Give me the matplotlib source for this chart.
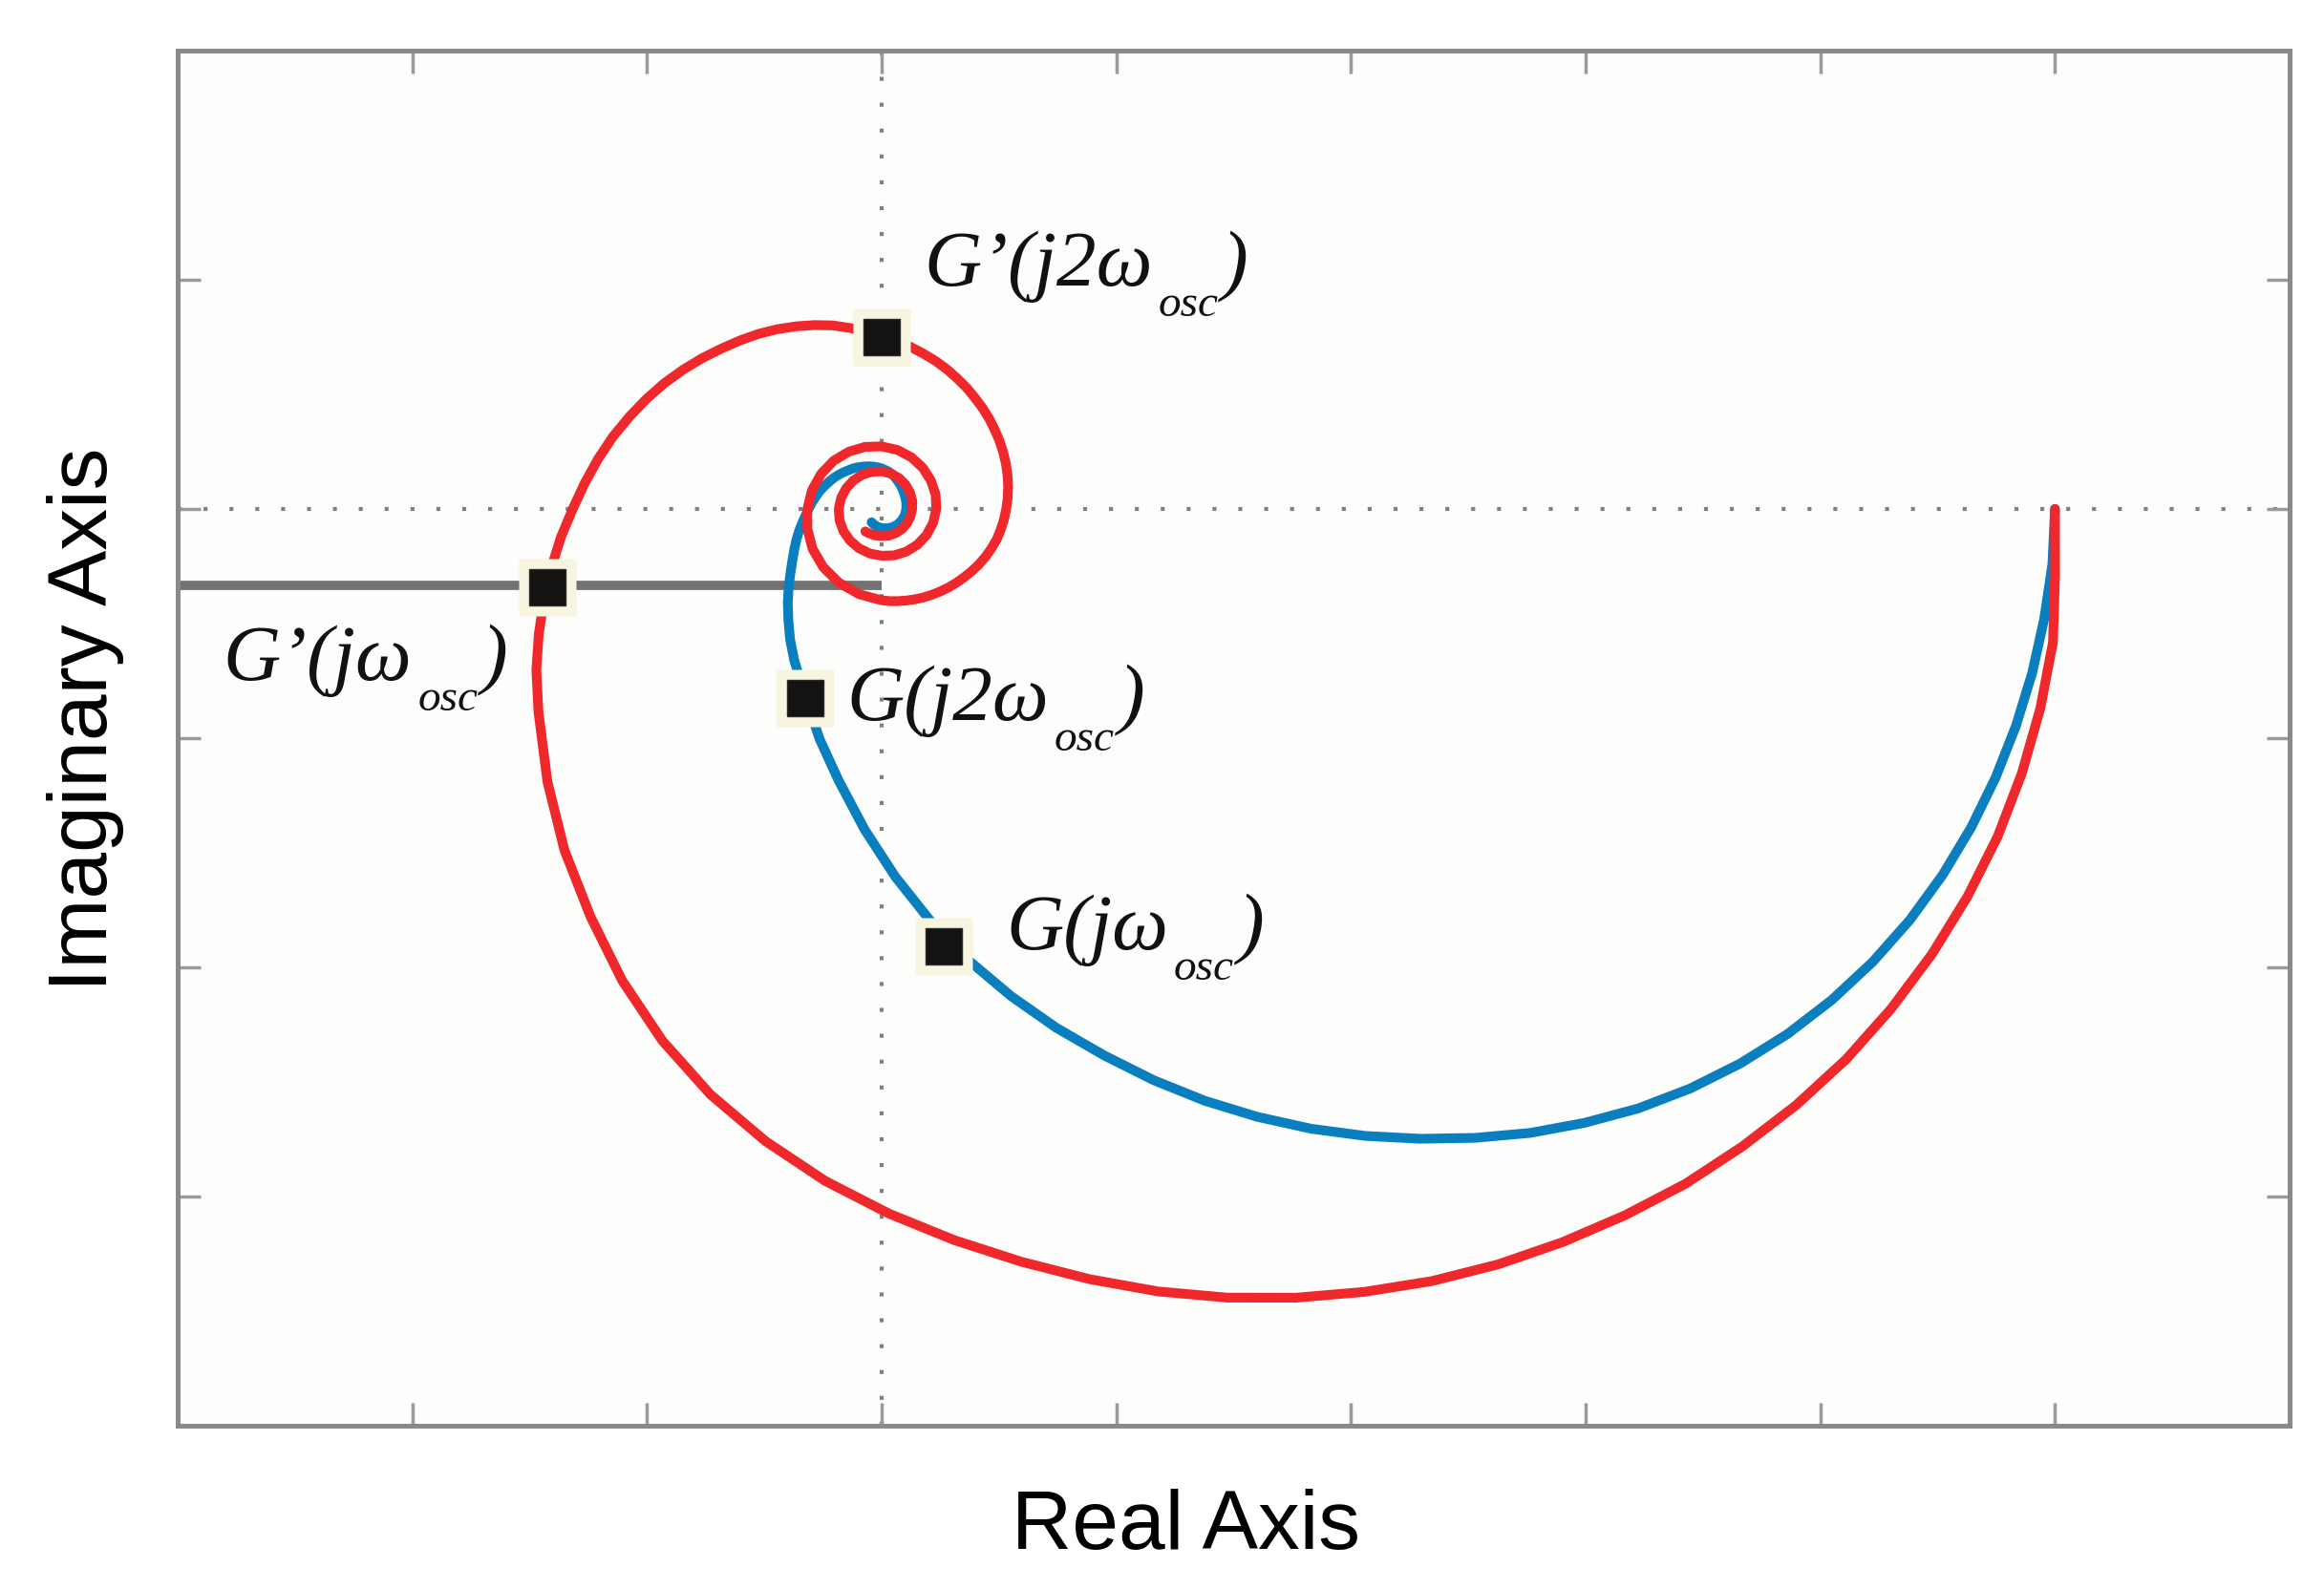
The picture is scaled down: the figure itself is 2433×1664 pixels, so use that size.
import matplotlib
matplotlib.use('Agg')
import matplotlib.pyplot as plt
import numpy as np

# Nyquist loci, (real, imag) from w = 0 upwards
g_pts = [
    (1.000, 0.0), (0.9978, -0.0483), (0.9908, -0.0960), (0.9806, -0.1431),
    (0.9668, -0.1892), (0.9495, -0.2342), (0.9287, -0.2777), (0.9043, -0.3193),
    (0.8763, -0.3587), (0.8448, -0.3951), (0.8100, -0.4283), (0.7722, -0.4581),
    (0.7318, -0.4839), (0.6892, -0.5057), (0.6449, -0.5231), (0.5991, -0.5357),
    (0.5527, -0.5445), (0.5058, -0.5488), (0.4589, -0.5496), (0.4121, -0.5471),
    (0.3658, -0.5408), (0.3200, -0.5304), (0.2753, -0.5164), (0.2319, -0.4985),
    (0.1899, -0.4770), (0.1491, -0.4529), (0.1104, -0.4252), (0.0741, -0.3939),
    (0.0411, -0.3589), (0.0115, -0.3207), (-0.0145, -0.2798), (-0.0368, -0.2367),
    (-0.0527, -0.2012), (-0.0618, -0.1738), (-0.0688, -0.1511), (-0.0745, -0.1321),
    (-0.0780, -0.1140), (-0.0795, -0.0970), (-0.0800, -0.0819), (-0.0792, -0.0680),
    (-0.0777, -0.0557), (-0.0761, -0.0450), (-0.0745, -0.0356), (-0.0727, -0.0271),
    (-0.0704, -0.0193), (-0.0677, -0.0122), (-0.0649, -0.0058), (-0.0623, 0.0),
    (-0.0596, 0.0053), (-0.0565, 0.0102), (-0.0535, 0.0147), (-0.0501, 0.0187),
    (-0.0465, 0.0222), (-0.0430, 0.0254), (-0.0393, 0.0282), (-0.0356, 0.0305),
    (-0.0317, 0.0324), (-0.0279, 0.0340), (-0.0242, 0.0354), (-0.0205, 0.0363),
    (-0.0168, 0.0369), (-0.0132, 0.0372), (-0.0097, 0.0372), (-0.0064, 0.0369),
    (-0.0031, 0.0363), (0.0, 0.0354), (0.0057, 0.0328), (0.0103, 0.0290),
    (0.0138, 0.0245), (0.0165, 0.0201), (0.0184, 0.0158), (0.0197, 0.0117),
    (0.0207, 0.0077), (0.0211, 0.0038), (0.0210, 0.0), (0.0198, -0.0054),
    (0.0171, -0.0101), (0.0134, -0.0137), (0.0090, -0.0160), (0.0044, -0.0169),
    (0.0, -0.0167), (-0.0040, -0.0153), (-0.0073, -0.0130), (-0.0086, -0.0116),
]

gp_pts = [
    (1.000, 0.0), (1.0001, -0.0580), (0.9983, -0.1164), (0.9875, -0.1741),
    (0.9718, -0.2306), (0.9513, -0.2856), (0.9254, -0.3383), (0.8951, -0.3886),
    (0.8605, -0.4360), (0.8221, -0.4802), (0.7794, -0.5203), (0.7335, -0.5564),
    (0.6851, -0.5889), (0.6337, -0.6163), (0.5804, -0.6398), (0.5255, -0.6592),
    (0.4690, -0.6738), (0.4114, -0.6832), (0.3530, -0.6883), (0.2942, -0.6882),
    (0.2354, -0.6828), (0.1771, -0.6721), (0.1194, -0.6570), (0.0623, -0.6382),
    (0.0062, -0.6149), (-0.0481, -0.5864), (-0.0991, -0.5516), (-0.1460, -0.5109),
    (-0.1870, -0.4639), (-0.2211, -0.4116), (-0.2483, -0.3554), (-0.2704, -0.2976),
    (-0.2849, -0.2377), (-0.2925, -0.1771), (-0.2943, -0.1405), (-0.2922, -0.1089),
    (-0.2878, -0.0789), (-0.2814, -0.0508), (-0.2733, -0.0245), (-0.2633, 0.0),
    (-0.2530, 0.0227), (-0.2417, 0.0436), (-0.2292, 0.0629), (-0.2153, 0.0802),
    (-0.2007, 0.0958), (-0.1854, 0.1096), (-0.1694, 0.1214), (-0.1531, 0.1315),
    (-0.1367, 0.1399), (-0.1206, 0.1471), (-0.1046, 0.1529), (-0.0885, 0.1570),
    (-0.0726, 0.1594), (-0.0571, 0.1605), (-0.0419, 0.1602), (-0.0272, 0.1580),
    (-0.0132, 0.1548), (0.0, 0.1508), (0.0125, 0.1465), (0.0244, 0.1416),
    (0.0355, 0.1356), (0.0459, 0.1292), (0.0555, 0.1220), (0.0643, 0.1140),
    (0.0724, 0.1058), (0.0795, 0.0970), (0.0860, 0.0881), (0.0917, 0.0787),
    (0.0964, 0.0691), (0.1005, 0.0594), (0.1036, 0.0495), (0.1059, 0.0395),
    (0.1073, 0.0294), (0.1078, 0.0194), (0.1074, 0.0096), (0.1062, 0.0),
    (0.1042, -0.0093), (0.1014, -0.0183), (0.0979, -0.0269), (0.0933, -0.0348),
    (0.0882, -0.0421), (0.0825, -0.0488), (0.0763, -0.0547), (0.0698, -0.0600),
    (0.0632, -0.0647), (0.0564, -0.0688), (0.0494, -0.0722), (0.0423, -0.0751),
    (0.0352, -0.0773), (0.0280, -0.0789), (0.0209, -0.0799), (0.0138, -0.0804),
    (0.0069, -0.0804), (0.0, -0.0797), (-0.0194, -0.0743), (-0.0363, -0.0644),
    (-0.0497, -0.0509), (-0.0589, -0.0348), (-0.0633, -0.0174), (-0.0633, 0.0),
    (-0.0594, 0.0163), (-0.0517, 0.0305), (-0.0410, 0.0420), (-0.0282, 0.0499),
    (-0.0142, 0.0542), (0.0, 0.0546), (0.0135, 0.0515), (0.0254, 0.0451),
    (0.0351, 0.0359), (0.0420, 0.0248), (0.0460, 0.0126), (0.0466, 0.0),
    (0.0439, -0.0120), (0.0383, -0.0227), (0.0305, -0.0312), (0.0210, -0.0372),
    (0.0106, -0.0405), (0.0, -0.0408), (-0.0102, -0.0388), (-0.0193, -0.0343),
    (-0.0269, -0.0276), (-0.0326, -0.0193), (-0.0359, -0.0098), (-0.0366, 0.0),
    (-0.0346, 0.0095), (-0.0303, 0.0179), (-0.0242, 0.0248), (-0.0168, 0.0297),
    (-0.0085, 0.0324), (0.0, 0.0329), (0.0081, 0.0308), (0.0151, 0.0267),
    (0.0205, 0.0210), (0.0242, 0.0143), (0.0261, 0.0072), (0.0260, 0.0),
    (0.0245, -0.0067), (0.0215, -0.0127), (0.0172, -0.0176), (0.0119, -0.0211),
    (0.0061, -0.0233), (0.0, -0.0238), (-0.0060, -0.0230), (-0.0117, -0.0208),
    (-0.0139, -0.0196),
]

# horizontal grey locus
bar_re = [-0.6, 0.0]
bar_im = [-0.067, -0.067]

# marked points and their labels
mark_re = [0.053, -0.065, -0.285, 0.000]
mark_im = [-0.382, -0.165, -0.068, 0.150]
lab_x = [0.106, -0.030, -0.561, 0.036]
lab_y = [-0.384, -0.184, -0.149, 0.195]
lab_main = ["G(jω", "G(j2ω", "G’(jω", "G’(j2ω"]
lab_sub = "osc"

xticks = np.arange(-0.6, 1.21, 0.2)
yticks = np.arange(-0.8, 0.41, 0.2)

g_re, g_im = zip(*g_pts)
gp_re, gp_im = zip(*gp_pts)

fig = plt.figure(figsize=(24.33, 16.64), dpi=100)
ax = fig.add_axes([186/2433, 1 - 1493/1664, (2397 - 186)/2433, (1493 - 53)/1664])
ax.set_facecolor('#fdfdfb')

ax.axhline(0, color='#808080', lw=3, ls=(0, (1, 5.5)), zorder=1)
ax.axvline(0, color='#808080', lw=3, ls=(0, (1, 5.5)), zorder=1)

ax.plot(bar_re, bar_im, color='#727272', lw=7, solid_capstyle='butt', zorder=2)
ax.plot(g_re, g_im, color='#0a7fbf', lw=7.3, solid_capstyle='round',
        solid_joinstyle='round', zorder=3)
ax.plot(gp_re, gp_im, color='#f0272b', lw=7.3, solid_capstyle='round',
        solid_joinstyle='round', zorder=4)

ax.plot(mark_re, mark_im, 's', ms=43, color='#f7f4e0', mec='none', zorder=5)
ax.plot(mark_re, mark_im, 's', ms=27, color='#141311', mec='#2a2a2a', mew=1, zorder=6)

serif = dict(family='Liberation Serif', style='italic', color='#111111')
for x, y, s in zip(lab_x, lab_y, lab_main):
    t = ax.text(x, y, s, fontsize=60, ha='left', va='baseline', zorder=7, **serif)
    t2 = ax.annotate(lab_sub, xy=(1, y), xycoords=(t, 'data'), xytext=(4, -23),
                     textcoords='offset points', fontsize=34, ha='left',
                     va='baseline', zorder=7, **serif)
    ax.annotate(")", xy=(1, y), xycoords=(t2, 'data'), xytext=(3, 0),
                textcoords='offset points', fontsize=60, ha='left',
                va='baseline', zorder=7, **serif)

ax.set_xlim(-0.6, 1.2)
ax.set_ylim(-0.8, 0.4)
ax.set_xticks(xticks)
ax.set_yticks(yticks)
ax.tick_params(direction='in', length=17, width=2.5, color='#9a9a9a',
               top=True, right=True, labelbottom=False, labelleft=False)
for sp in ax.spines.values():
    sp.set_color('#8a8a8a')
    sp.set_linewidth(3.6)

fig.text(1242/2433, 1 - 1622/1664, 'Real Axis', fontsize=63, family='Liberation Sans',
         ha='center', va='baseline')
fig.text(90/2433, 1 - 753/1664, 'Imaginary Axis', fontsize=63, family='Liberation Sans',
         ha='center', va='center', rotation=90)

fig.savefig('out.png', dpi=100, facecolor='white')
